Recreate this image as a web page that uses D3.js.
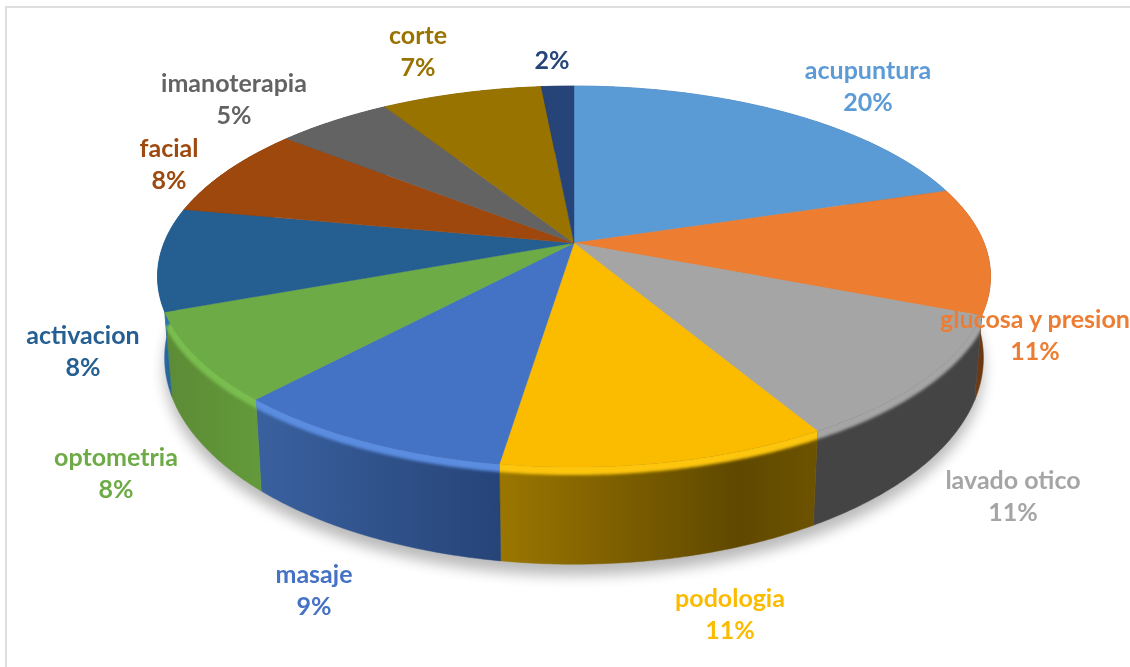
<!DOCTYPE html>
<html>
<head>
<meta charset="utf-8">
<script src="https://cdn.jsdelivr.net/npm/d3@7/dist/d3.min.js"></script>
<style>
html,body{margin:0;padding:0;background:#fff;overflow:hidden}
svg{display:block}
</style>
</head>
<body>
<svg id="chart" width="1130" height="667"></svg>
<script>
// ---- data
const categories = ["acupuntura","glucosa y presion","lavado otico","podologia","masaje","optometria","activacion","facial","imanoterapia","corte",""];
const shares = [20.2,10.8,10.6,10.8,9.4,7.5,8.7,7.8,5.3,7.4,1.5];
const percentLabels = ["20%","11%","11%","11%","9%","8%","8%","8%","5%","7%","2%"];

// ---- styling
const faceColors = ["#5b9bd5","#ed7d31","#a5a5a5","#fbbc00","#4472c4","#6dab46","#255e91","#9e480e","#636363","#997300","#264478"];
const rimColors  = ["#5b9bd5","#ed7d31","#a5a5a5","#fdc60c","#5a8ce0","#78bd4e","#2a72b0","#9e480e","#636363","#997300","#264478"];
const wallStops  = [
  ["#3f6f99","#3f6f99"],["#a85a22","#5c300f"],["#444444","#444444"],
  ["#9b7600","#5f4800","#6d5300"],["#3a619f","#264478"],["#5c8b36","#639a3a"],
  ["#2a6fa8","#20537f"],["#6f320a","#6f320a"],["#444","#444"],["#6b5100","#6b5100"],["#1b3054","#1b3054"]
];
const labelCenters = [[868,70],[1035,319],[1013,480],[730,598],[314,574],[116,457],[83,335],[169,148],[234,83],[418,35],[552,60]];
const lineGap = 32;

// ---- perspective projection of the two disks
const cx = 574, k = 0.176;
const topDisk = {cy:243, rx:410, ry:184.6};
const baseDisk = {cy:321.5, rx:403, ry:200};
function project(d, a, r=1){
  const X = Math.sin(a)*r, Y = -Math.cos(a)*r, s = 1/(1-k*Y);
  return [cx + d.rx*X*s, d.cy + d.ry*Y*s];
}
const line = d3.line();
function arcPts(d, a0, a1, r=1){
  const n = Math.max(2, Math.ceil(Math.abs(a1-a0)/0.01));
  return d3.range(n+1).map(i => project(d, a0+(a1-a0)*i/n, r));
}

const pie = d3.pie().sort(null).value(v=>v).startAngle(0).endAngle(2*Math.PI);
const arcs = pie(shares);
const bevelDrop = 3;

const svg = d3.select("#chart");
const defs = svg.append("defs");
const blur = (id,s)=>defs.append("filter").attr("id",id)
  .attr("filterUnits","userSpaceOnUse")
  .attr("x",-50).attr("y",-50).attr("width",1230).attr("height",767)
  .append("feGaussianBlur").attr("stdDeviation",s);
blur("shadowBlur",7); blur("rimBlur",1.5); blur("textBlur",0.35);

// frame
svg.append("path").attr("d","M6,667V7H1130").attr("fill","none").attr("stroke","#dedede").attr("stroke-width",2);

// soft shadow under the pie
const full = arcPts(baseDisk,0,2*Math.PI);
svg.append("path").attr("d",line(full)+"Z").attr("fill","#000").attr("opacity",0.27)
  .attr("transform","translate(0,11)").attr("filter","url(#shadowBlur)");

// slice polygons
arcs.forEach((a,i)=>{
  const topArc = arcPts(topDisk,a.startAngle,a.endAngle);
  const baseArc = arcPts(baseDisk,a.startAngle,a.endAngle).reverse();
  const apex = [cx,topDisk.cy];
  defs.append("clipPath").attr("id","clip"+i).append("path")
    .attr("d",line([apex,...topArc,...baseArc,topArc[0]])+"Z");
  const xs = topArc.concat(baseArc).map(p=>p[0]);
  const g = defs.append("linearGradient").attr("id","wall"+i).attr("gradientUnits","userSpaceOnUse")
    .attr("x1",d3.min(xs)).attr("x2",d3.max(xs)).attr("y1",0).attr("y2",0);
  wallStops[i].forEach((c,j)=>{
    const off = wallStops[i].length===3 ? [0,0.75,1][j] : j/(wallStops[i].length-1);
    g.append("stop").attr("offset",off).attr("stop-color",c);
  });
  svg.append("path").attr("class","wall").attr("d",line([...topArc,...baseArc])+"Z")
    .attr("fill",`url(#wall${i})`).attr("stroke",`url(#wall${i})`).attr("stroke-width",0.5);
});
// rim bevel: a soft band just below the front edge of the top face
arcs.forEach((a,i)=>{
  const g = svg.append("g").attr("clip-path",`url(#clip${i})`);
  g.append("path").attr("d",line(arcPts(topDisk,a.startAngle-0.05,a.endAngle+0.05,1)))
    .attr("transform",`translate(0,${bevelDrop})`)
    .attr("fill","none").attr("stroke",rimColors[i]).attr("stroke-width",10)
    .attr("filter","url(#rimBlur)");
});
// top faces
arcs.forEach((a,i)=>{
  const face = [[cx,topDisk.cy],...arcPts(topDisk,a.startAngle,a.endAngle,1)];
  svg.append("path").attr("class","face").attr("d",line(face)+"Z")
    .attr("fill",faceColors[i]).attr("stroke",faceColors[i]).attr("stroke-width",0.4);
});

// labels
const font = "Lato, 'Open Sans', sans-serif";
arcs.forEach((a,i)=>{
  const [x,y] = labelCenters[i];
  const t = svg.append("g").attr("filter","url(#textBlur)")
    .attr("font-family",font).attr("font-weight",700).attr("font-size",25)
    .attr("text-anchor","middle").attr("fill",faceColors[i]);
  if(categories[i]){
    t.append("text").attr("x",x).attr("y",y).attr("dy","0.35em").text(categories[i]);
    t.append("text").attr("x",x).attr("y",y+lineGap).attr("dy","0.35em").text(percentLabels[i]);
  } else {
    t.append("text").attr("x",x).attr("y",y).attr("dy","0.35em").text(percentLabels[i]);
  }
});
</script>
</body>
</html>
